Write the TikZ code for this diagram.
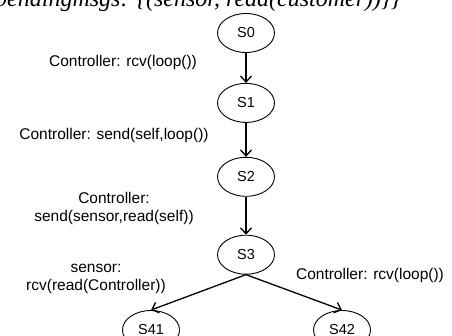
\documentclass[tikz,border=0pt]{standalone}
\usepackage{fontspec}
\setmainfont{Liberation Sans}
\newfontfamily\serifit{Liberation Serif}
\usetikzlibrary{arrows.meta, positioning, shapes.geometric}

\begin{document}
\begin{tikzpicture}[x=1pt, y=-1pt, font=\fontsize{15.5}{17.5}\selectfont,
    state/.style={draw, ellipse, line width=0.9pt, minimum width=57pt, minimum height=39pt, inner sep=0pt, font=\fontsize{14.5}{17}\selectfont},
    trans/.style={-{Straight Barb[length=6pt, width=11pt]}, line width=1.3pt},
    lbl/.style={align=center, inner sep=0pt}]
    \useasboundingbox (0,0) rectangle (452,336);
    \clip (0,0) rectangle (452,336);
    % cut-off line of the surrounding text
    \node[anchor=base west, inner sep=0pt, font=\serifit\itshape\fontsize{24}{28}\selectfont] (pend) at (-5,7) {pendingmsgs: \{(sensor, read(customer))\}\}};
    % states
    \node[state] (s0) at (246,33) {S0};
    \node[state, below=30pt of s0] (s1) {S1};
    \node[state, below=34pt of s1] (s2) {S2};
    \node[state, below=38pt of s2] (s3) {S3};
    \node[state] (s41) at (151,330) {S41};
    \node[state] (s42) at (342,330) {S42};
    % transitions
    \draw[trans] (s0) -- (s1);
    \draw[trans] (s1) -- (s2);
    \draw[trans] (s2) -- (s3);
    \draw[trans] (s3.south) -- (s41.north);
    \draw[trans] (s3.south) -- (s42.north);
    % labels
    \node[lbl] (l01) at (123,62) {Controller: rcv(loop())};
    \node[lbl] (l12) at (114,135) {Controller: send(self,loop())};
    \node[lbl] (l23) at (114,208.5) {Controller:\\send(sensor,read(self))};
    \node[lbl] (l341) at (96,279) {sensor:\\rcv(read(Controller))};
    \node[lbl] (l342) at (370,275) {Controller: rcv(loop())};
\end{tikzpicture}
\end{document}
